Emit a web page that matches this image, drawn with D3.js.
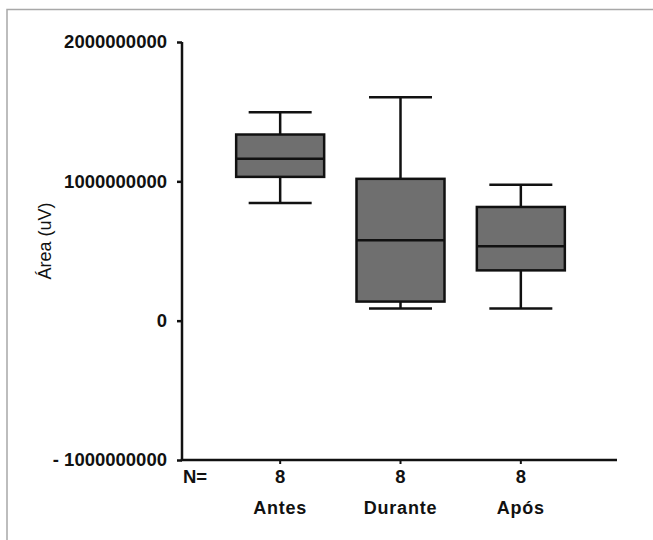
<!DOCTYPE html>
<html>
<head>
<meta charset="utf-8">
<script src="https://cdn.jsdelivr.net/npm/d3@7"></script>
<style>
  body { margin: 0; background: #fff; }
  text { font-family: "Liberation Sans", Arial, sans-serif; }
</style>
</head>
<body>
<div class="chart"></div>
<script>
// DATA ------------------------------------
const groups = ["Antes", "Durante", "Após"];
const nValues = [8, 8, 8];
const whiskerLow = [845e6, 87e6, 87e6];
const q1 = [1032e6, 137e6, 361e6];
const medians = [1162e6, 578e6, 534e6];
const q3 = [1336e6, 1018e6, 816e6];
const whiskerHigh = [1495e6, 1603e6, 975e6];
const yTicks = [-1e9, 0, 1e9, 2e9];

const data = groups.map((g, i) => ({
  group: g,
  n: nValues[i],
  lo: whiskerLow[i],
  q1: q1[i],
  med: medians[i],
  q3: q3[i],
  hi: whiskerHigh[i]
}));

// CHART INIT ------------------------------
const totalWidth = 653,
  totalHeight = 540;

const svg = d3
  .select(".chart")
  .append("svg")
  .attr("width", totalWidth)
  .attr("height", totalHeight);

// frame around the figure
svg
  .append("path")
  .attr("d", "M7,540 V9.5 H653")
  .attr("fill", "none")
  .attr("stroke", "#a8a8a8")
  .attr("stroke-width", 1.5);

const yScale = d3.scaleLinear().domain([-1e9, 2e9]).range([460, 42]);
const xScale = d3.scaleBand().domain(groups).range([220, 581]);
const boxW = 88,
  capW = 63;

// y axis
const yAxis = d3
  .axisLeft(yScale)
  .tickValues(yTicks)
  .tickSize(5)
  .tickPadding(10)
  .tickFormat((d) => (d < 0 ? "- " + Math.abs(d) : String(d)));

const yG = svg.append("g").attr("transform", "translate(182,0)").call(yAxis);
yG.select(".domain").remove();
yG.selectAll("line").attr("stroke", "#111").attr("stroke-width", 2.5);
yG.selectAll("text")
  .attr("font-size", 18.5)
  .attr("font-weight", "bold")
  .attr("fill", "#111");

svg
  .append("line")
  .attr("x1", 182)
  .attr("x2", 182)
  .attr("y1", yScale(2e9))
  .attr("y2", yScale(-1e9))
  .attr("stroke", "#111")
  .attr("stroke-width", 2.5);

// x axis
svg
  .append("line")
  .attr("x1", 180.75)
  .attr("x2", 617)
  .attr("y1", yScale(-1e9))
  .attr("y2", yScale(-1e9))
  .attr("stroke", "#111")
  .attr("stroke-width", 2.5);

const cx = (d) => xScale(d.group) + xScale.bandwidth() / 2;

svg
  .selectAll(".xtick")
  .data(data)
  .enter()
  .append("line")
  .attr("x1", cx)
  .attr("x2", cx)
  .attr("y1", 460)
  .attr("y2", 464)
  .attr("stroke", "#111")
  .attr("stroke-width", 2);

svg
  .append("text")
  .attr("x", 183)
  .attr("y", 483)
  .attr("font-size", 18.5)
  .attr("font-weight", "bold")
  .attr("fill", "#111")
  .text("N=");

svg
  .selectAll(".ntext")
  .data(data)
  .enter()
  .append("text")
  .attr("x", cx)
  .attr("y", 483)
  .attr("text-anchor", "middle")
  .attr("font-size", 18.5)
  .attr("font-weight", "bold")
  .attr("fill", "#111")
  .text((d) => d.n);

svg
  .selectAll(".gtext")
  .data(data)
  .enter()
  .append("text")
  .attr("x", cx)
  .attr("y", 514)
  .attr("text-anchor", "middle")
  .attr("font-size", 18)
  .attr("font-weight", "bold")
  .attr("letter-spacing", 0.8)
  .attr("fill", "#111")
  .text((d) => d.group);

// y title
svg
  .append("text")
  .attr("transform", "translate(51,241) rotate(-90)")
  .attr("text-anchor", "middle")
  .attr("font-size", 18)
  .attr("fill", "#111")
  .text("Área (uV)");

// BOXES -----------------------------------
const boxes = svg.selectAll(".box").data(data).enter().append("g");

// whisker stems
boxes
  .append("line")
  .attr("x1", cx)
  .attr("x2", cx)
  .attr("y1", (d) => yScale(d.hi))
  .attr("y2", (d) => yScale(d.q3))
  .attr("stroke", "#111")
  .attr("stroke-width", 2.5);
boxes
  .append("line")
  .attr("x1", cx)
  .attr("x2", cx)
  .attr("y1", (d) => yScale(d.q1))
  .attr("y2", (d) => yScale(d.lo))
  .attr("stroke", "#111")
  .attr("stroke-width", 2.5);

// caps
["hi", "lo"].forEach((k) => {
  boxes
    .append("line")
    .attr("x1", (d) => cx(d) - capW / 2)
    .attr("x2", (d) => cx(d) + capW / 2)
    .attr("y1", (d) => yScale(d[k]))
    .attr("y2", (d) => yScale(d[k]))
    .attr("stroke", "#111")
    .attr("stroke-width", 2.5);
});

boxes
  .append("rect")
  .attr("x", (d) => cx(d) - boxW / 2)
  .attr("y", (d) => yScale(d.q3))
  .attr("width", boxW)
  .attr("height", (d) => yScale(d.q1) - yScale(d.q3))
  .attr("fill", "#6f6f6f")
  .attr("stroke", "#111")
  .attr("stroke-width", 2.5);

boxes
  .append("line")
  .attr("x1", (d) => cx(d) - boxW / 2)
  .attr("x2", (d) => cx(d) + boxW / 2)
  .attr("y1", (d) => yScale(d.med))
  .attr("y2", (d) => yScale(d.med))
  .attr("stroke", "#111")
  .attr("stroke-width", 2.5);
</script>
</body>
</html>
